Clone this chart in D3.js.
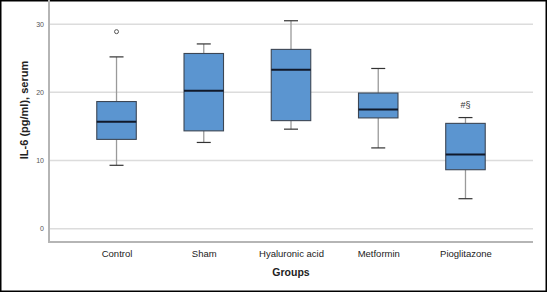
<!DOCTYPE html>
<html><head><meta charset="utf-8">
<script src="https://cdn.jsdelivr.net/npm/d3@7"></script>
<style>body{margin:0;background:#fff}svg{display:block}</style>
</head><body>
<script>
const categories = ["Control","Sham","Hyaluronic acid","Metformin","Pioglitazone"];
const whiskerLow = [9.3, 12.65, 14.6, 11.85, 4.4];
const q1 = [13.1, 14.35, 15.85, 16.25, 8.65];
const median = [15.7, 20.25, 23.3, 17.5, 10.9];
const q3 = [18.65, 25.7, 26.3, 19.9, 15.45];
const whiskerHigh = [25.2, 27.1, 30.5, 23.5, 16.3];
const outliers = [[28.9], [], [], [], []];
const annotations = ["", "", "", "", "#§"];
const yTicks = [0, 10, 20, 30];

(function(){
const W = 547, H = 292;
const svg = d3.select("body").append("svg").attr("width", W).attr("height", H);
svg.append("rect").attr("x",0.75).attr("y",0.75).attr("width",W-1.5).attr("height",H-1.5)
  .attr("fill","#fff").attr("stroke","#000").attr("stroke-width",1.5);

const pL = 49, pR = 533, pB = 242, pT = 2;
const y = d3.scaleLinear().domain([-1.95, 33.25]).range([pB, pT]);
const x = d3.scalePoint().domain(categories).range([pL, pR]).padding(0.774);
const font = "Liberation Sans, Arial, sans-serif";

svg.append("g").selectAll("line").data(yTicks).join("line")
  .attr("x1", pL).attr("x2", pR).attr("y1", d=>y(d)).attr("y2", d=>y(d))
  .attr("stroke","#dcdcdc").attr("stroke-width",1.5);

const yAxis = d3.axisLeft(y).tickValues(yTicks).tickSize(0).tickPadding(5);
const gy = svg.append("g").attr("transform",`translate(${pL},0)`).call(yAxis);
gy.select(".domain").attr("stroke","#b5b5b5").attr("stroke-width",2).attr("d",`M0,${pT-2}V${pB}`);
gy.selectAll("text").attr("font-family",font).attr("font-size",7).attr("fill","#555");

const xAxis = d3.axisBottom(x).tickSize(0).tickPadding(8);
const gx = svg.append("g").attr("transform",`translate(0,${pB})`).call(xAxis);
gx.select(".domain").attr("stroke","#b5b5b5").attr("stroke-width",2).attr("d",`M${pL-1},0H${pR}`);
gx.selectAll("text").attr("font-family",font).attr("font-size",9.5).attr("fill","#222");

svg.append("text").attr("x", x("Hyaluronic acid")).attr("y", 276).attr("text-anchor","middle")
  .attr("font-family",font).attr("font-size",10.5).attr("font-weight","bold").attr("fill","#222")
  .text("Groups");
svg.append("text").attr("transform",`translate(28,110) rotate(-90)`).attr("text-anchor","middle")
  .attr("font-family",font).attr("font-size",11).attr("font-weight","bold").attr("fill","#222")
  .text("IL-6 (pg/ml), serum");

const boxW = 39.5, capW = 14;
const data = categories.map((c,i)=>({c, lo:whiskerLow[i], q1:q1[i], med:median[i], q3:q3[i], hi:whiskerHigh[i], out:outliers[i], ann:annotations[i]}));
const g = svg.append("g").selectAll("g").data(data).join("g").attr("transform", d=>`translate(${x(d.c)},0)`);

g.append("line").attr("x1",0).attr("x2",0).attr("y1",d=>y(d.hi)).attr("y2",d=>y(d.q3)).attr("stroke","#9a9a9a").attr("stroke-width",1.3);
g.append("line").attr("x1",0).attr("x2",0).attr("y1",d=>y(d.q1)).attr("y2",d=>y(d.lo)).attr("stroke","#9a9a9a").attr("stroke-width",1.3);
g.append("line").attr("x1",-capW/2).attr("x2",capW/2).attr("y1",d=>y(d.hi)).attr("y2",d=>y(d.hi)).attr("stroke","#333").attr("stroke-width",1.2);
g.append("line").attr("x1",-capW/2).attr("x2",capW/2).attr("y1",d=>y(d.lo)).attr("y2",d=>y(d.lo)).attr("stroke","#333").attr("stroke-width",1.2);
g.append("rect").attr("x",-boxW/2).attr("width",boxW).attr("y",d=>y(d.q3)).attr("height",d=>y(d.q1)-y(d.q3))
  .attr("fill","#5b95d0").attr("stroke","#3c4654").attr("stroke-width",1.1);
g.append("line").attr("x1",-boxW/2).attr("x2",boxW/2).attr("y1",d=>y(d.med)).attr("y2",d=>y(d.med)).attr("stroke","#10192a").attr("stroke-width",2);
g.selectAll("circle").data(d=>d.out).join("circle").attr("cx",0).attr("cy",v=>y(v)).attr("r",2)
  .attr("fill","#fff").attr("stroke","#555").attr("stroke-width",1);
g.append("text").attr("x",0).attr("y",d=>y(d.hi)-10).attr("text-anchor","middle")
  .attr("font-family",font).attr("font-size",9).attr("fill","#333").text(d=>d.ann);
})();
</script>
</body></html>
